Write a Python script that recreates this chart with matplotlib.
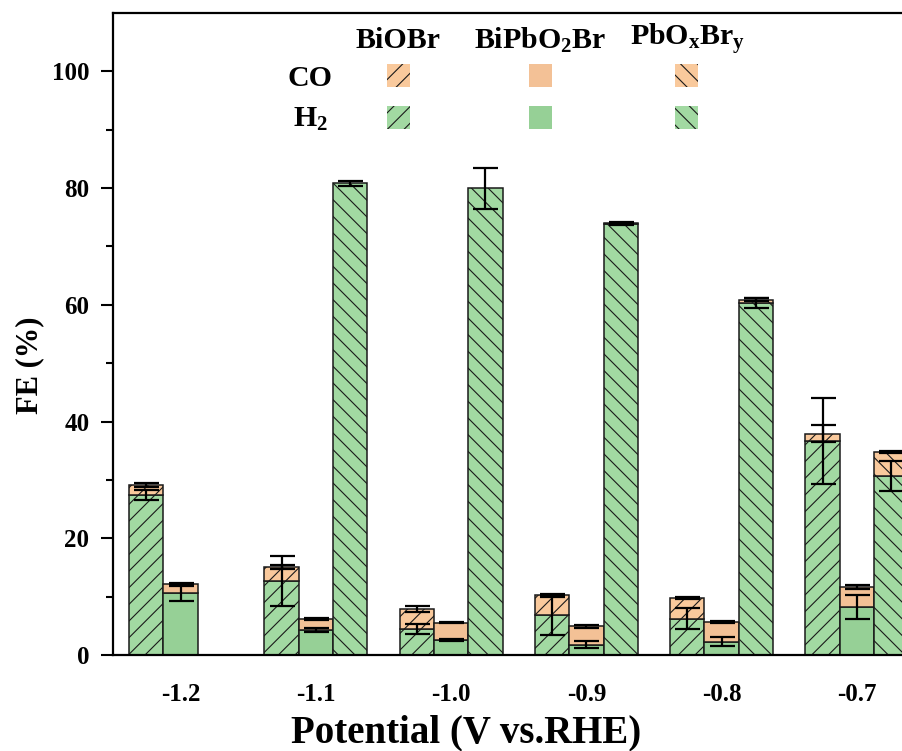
import numpy as np
import matplotlib
matplotlib.use("Agg")
import matplotlib.pyplot as plt
from matplotlib.patches import Rectangle

# ---------------- data ----------------
potentials = ['-1.2', '-1.1', '-1.0', '-0.9', '-0.8', '-0.7']

biobr_h2 = [27.4, 12.7, 4.45, 6.85, 6.2, 36.7]
biobr_co = [1.7, 2.4, 3.45, 3.35, 3.55, 1.25]
biobr_h2_err = [0.9, 4.3, 0.85, 3.5, 1.8, 7.4]
biobr_co_err = [0.4, 0.3, 0.55, 0.3, 0.2, 1.45]

bipbo2br_h2 = [10.6, 4.3, 2.57, 1.77, 2.3, 8.15]
bipbo2br_co = [1.5, 1.9, 2.93, 3.13, 3.35, 3.55]
bipbo2br_h2_err = [1.35, 0.3, 0.15, 0.6, 0.75, 2.05]
bipbo2br_co_err = [0.2, 0.15, 0.1, 0.2, 0.15, 0.35]

pboxbry_h2 = [0.0, 80.8, 80.0, 73.9, 60.3, 30.7]
pboxbry_co = [0.0, 0.0, 0.0, 0.15, 0.6, 4.1]
pboxbry_h2_err = [0.0, 0.5, 3.5, 0.2, 0.9, 2.6]
pboxbry_co_err = [0.0, 0.0, 0.0, 0.1, 0.3, 0.2]

series_names = ['BiOBr', 'BiPbO$_\\mathregular{2}$Br', 'PbO$_\\mathregular{x}$Br$_\\mathregular{y}$']
row_names = ['CO', 'H$_\\mathregular{2}$']

# ---------------- style ----------------
plt.rcParams['font.family'] = ['Liberation Serif', 'DejaVu Serif']
plt.rcParams['font.weight'] = 'bold'
plt.rcParams['mathtext.fontset'] = 'custom'
plt.rcParams['mathtext.rm'] = 'Liberation Serif:bold'
plt.rcParams['mathtext.bf'] = 'Liberation Serif:bold'
plt.rcParams['mathtext.it'] = 'Liberation Serif:bold'
plt.rcParams['hatch.linewidth'] = 0.8

green_h = '#a2d9a2'
green_s = '#96d096'
orange_h = '#f9c99c'
orange_s = '#f3c196'

W, H = 902, 751
fig = plt.figure(figsize=(W / 100, H / 100), dpi=100)
ax = fig.add_axes([113 / W, (H - 655) / H, (W - 113) / W + 0.01, (655 - 13) / H])

x = np.arange(len(potentials))
w = 0.254
offsets = [-w, 0.0, w]
hatches = ['//', None, '\\\\']
greens = [green_h, green_s, green_h]
oranges = [orange_h, orange_s, orange_h]

all_h2 = [biobr_h2, bipbo2br_h2, pboxbry_h2]
all_co = [biobr_co, bipbo2br_co, pboxbry_co]
all_h2e = [biobr_h2_err, bipbo2br_h2_err, pboxbry_h2_err]
all_coe = [biobr_co_err, bipbo2br_co_err, pboxbry_co_err]

for i in range(3):
    h2 = np.array(all_h2[i])
    co = np.array(all_co[i])
    pos = x + offsets[i]
    m = h2 > 0
    ax.bar(pos[m], h2[m], width=w, bottom=0, color=greens[i], edgecolor='#1a1a1a',
           linewidth=1.1, hatch=hatches[i], zorder=2)
    mc = co > 0
    ax.bar(pos[mc], co[mc], width=w, bottom=h2[mc], color=oranges[i], edgecolor='#1a1a1a',
           linewidth=1.1, hatch=hatches[i], zorder=2)

for i in range(3):
    h2 = np.array(all_h2[i])
    co = np.array(all_co[i])
    h2e = np.array(all_h2e[i])
    coe = np.array(all_coe[i])
    pos = x + offsets[i]
    m = h2e > 0
    ax.errorbar(pos[m], h2[m], yerr=h2e[m], fmt='none', ecolor='black',
                elinewidth=1.6, capsize=9, capthick=1.6, zorder=4)
    mc = coe > 0
    ax.errorbar(pos[mc], (h2 + co)[mc], yerr=coe[mc], fmt='none', ecolor='black',
                elinewidth=1.6, capsize=9, capthick=1.6, zorder=4)

ax.set_xlim(-0.5, 5.4)
ax.set_ylim(0, 110)
ax.set_xticks(x)
ax.set_xticklabels(potentials)
ax.set_yticks([0, 20, 40, 60, 80, 100])
ax.set_yticks([10, 30, 50, 70, 90], minor=True)
ax.tick_params(axis='x', length=0, pad=20, labelsize=18)
ax.tick_params(axis='y', which='major', direction='out', length=9, width=1.5, pad=8, labelsize=18)
ax.tick_params(axis='y', which='minor', direction='out', length=5, width=1.5)
for lab in ax.get_xticklabels() + ax.get_yticklabels():
    lab.set_fontweight('bold')

ax.spines['right'].set_visible(False)
for s in ['left', 'bottom', 'top']:
    ax.spines[s].set_linewidth(1.6)

ax.set_ylabel('FE (%)', fontsize=22, fontweight='bold')
ax.yaxis.set_label_coords((31 - 113) / 789, (655 - 365) / 642)
ax.set_xlabel('Potential (V vs.RHE)', fontsize=28, fontweight='bold')
ax.xaxis.set_label_coords((462 - 113) / 789, -(733 - 655) / 642)
ax.xaxis.label.set_va('center')
ax.yaxis.label.set_va('center')

# ---------------- custom legend ----------------
def fx(px):
    return px / W

def fy(py):
    return 1 - py / H

col_centers = [398, 540, 688]
for name, cx in zip(series_names, col_centers):
    fig.text(fx(cx), fy(40), name, ha='center', va='center', fontsize=21.5, fontweight='bold')

row_y = [79, 119]
for name, ry in zip(row_names, row_y):
    fig.text(fx(310), fy(ry), name, ha='center', va='center', fontsize=21.5, fontweight='bold')

patch_x = [387, 529, 675]
patch_y = [64, 106]
size = 23
for r, py in enumerate(patch_y):
    for c, px in enumerate(patch_x):
        fc = oranges[c] if r == 0 else greens[c]
        rect = Rectangle((fx(px), fy(py + size)), size / W, size / H, transform=fig.transFigure,
                         facecolor=fc, edgecolor='#1a1a1a', linewidth=0, hatch=hatches[c])
        fig.patches.append(rect)

fig.savefig('out.png', dpi=100)
